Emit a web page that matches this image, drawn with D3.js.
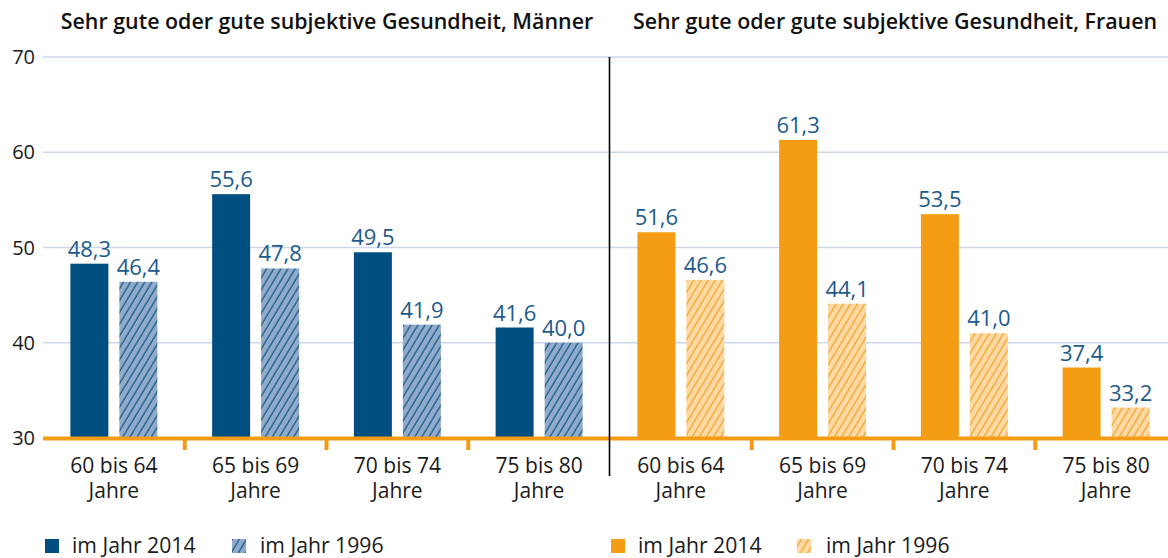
<!DOCTYPE html>
<html><head><meta charset="utf-8">
<script src="https://cdn.jsdelivr.net/npm/d3@7"></script>
<style>
html,body{margin:0;padding:0;background:#fff;}
svg{display:block;font-family:"Open Sans",sans-serif;}
</style></head>
<body>
<svg id="chart" width="1168" height="558"></svg>
<script>
const categories = ["60 bis 64|Jahre","65 bis 69|Jahre","70 bis 74|Jahre","75 bis 80|Jahre"];
const series = ["2014","1996"];
const titles = ["Sehr gute oder gute subjektive Gesundheit, Männer","Sehr gute oder gute subjektive Gesundheit, Frauen"];
const men2014 = [48.3, 55.6, 49.5, 41.6];
const men1996 = [46.4, 47.8, 41.9, 40.0];
const women2014 = [51.6, 61.3, 53.5, 37.4];
const women1996 = [46.6, 44.1, 41.0, 33.2];
const yTicks = [30, 40, 50, 60, 70];
const legendLabels = ["im Jahr 2014","im Jahr 1996"];

const svg = d3.select("#chart");
const W = 1168;
const y = d3.scaleLinear().domain([30,70]).range([438,57]);

const colors = {
  men: {solid:"#004f80", light:"#92abcb", line:"#004f80"},
  women: {solid:"#f49c14", light:"#fdd9a6", line:"#f49c14"}
};
const labelColor = "#1c5a8c";

const defs = svg.append("defs");
["men","women"].forEach(k=>{
  const p = defs.append("pattern").attr("id","hatch-"+k)
    .attr("patternUnits","userSpaceOnUse").attr("width",6.1).attr("height",10)
    .attr("patternTransform","rotate(31)");
  p.append("rect").attr("width",6.1).attr("height",10).attr("fill",colors[k].light);
  p.append("line").attr("x1",1).attr("x2",1).attr("y1",0).attr("y2",10)
    .attr("stroke",colors[k].line).attr("stroke-width",1.1);
});

// gridlines
svg.append("g").selectAll("line").data(yTicks.filter(d=>d>30)).join("line")
  .attr("x1",43).attr("x2",W).attr("y1",d=>y(d)).attr("y2",d=>y(d))
  .attr("stroke","#cdd7e8").attr("stroke-width",1.5);

// y axis labels
svg.append("g").selectAll("text").data(yTicks).join("text")
  .attr("x",35).attr("y",d=>y(d)).attr("dy","0.35em").attr("text-anchor","end")
  .attr("font-size",20).attr("fill","#1a1a1a").text(d=>d);

const panels = [
  {key:"men", range:[43,610], vals:[men2014,men1996], title:titles[0], tx:327},
  {key:"women", range:[610,1177], vals:[women2014,women1996], title:titles[1], tx:895}
];

panels.forEach(pn=>{
  const x0 = d3.scaleBand().domain(categories).range(pn.range).paddingInner(0).paddingOuter(0);
  const x1 = d3.scaleBand().domain(series).range([0,x0.bandwidth()]).paddingInner(0.2245).paddingOuter(0.559);
  const g = svg.append("g");
  const data = [];
  categories.forEach((c,i)=>series.forEach((s,j)=>data.push({c,s,v:pn.vals[j][i]})));
  g.selectAll("rect").data(data).join("rect")
    .attr("x",d=>x0(d.c)+x1(d.s)).attr("width",x1.bandwidth())
    .attr("y",d=>y(d.v)).attr("height",d=>y(30)-y(d.v))
    .attr("fill",d=>d.s==="2014"?colors[pn.key].solid:`url(#hatch-${pn.key})`);
  g.selectAll("text.val").data(data).join("text").attr("class","val")
    .attr("x",d=>x0(d.c)+x1(d.s)+x1.bandwidth()/2).attr("y",d=>y(d.v)-7)
    .attr("text-anchor","middle").attr("font-size",22).attr("fill",labelColor)
    .text(d=>d3.format(".1f")(d.v).replace(".",","));
  // ticks between groups
  g.selectAll("rect.tick").data(categories.slice(1)).join("rect").attr("class","tick")
    .attr("x",d=>x0(d)-2).attr("y",438).attr("width",4).attr("height",12)
    .attr("fill","#f49c14");
  // category labels
  const cl = g.selectAll("text.cat").data(categories).join("text").attr("class","cat")
    .attr("text-anchor","middle").attr("font-size",21).attr("fill","#1a1a1a");
  cl.each(function(d){
    const t = d3.select(this), parts = d.split("|"), cx = x0(d)+x0.bandwidth()/2;
    parts.forEach((p,i)=>t.append("tspan").attr("x",cx).attr("y",473+i*25).text(p));
  });
  // title
  svg.append("text").attr("x",pn.tx).attr("y",29)
    .attr("text-anchor","middle").attr("font-size",21.4).attr("font-weight",600).attr("fill","#111")
    .text(pn.title);
});

// baseline
svg.append("rect").attr("x",43).attr("y",y(30)-1.5).attr("width",W-43).attr("height",4).attr("fill","#f49c14");

// separator
svg.append("line").attr("x1",609.5).attr("x2",609.5).attr("y1",57).attr("y2",476)
  .attr("stroke","#000").attr("stroke-width",1.6);

// legends
const legendPos = [
  {key:"men", items:[{x:45,tx:72},{x:232,tx:260}]},
  {key:"women", items:[{x:611,tx:638},{x:797,tx:826}]}
];
legendPos.forEach(lp=>{
  const g = svg.append("g");
  lp.items.forEach((it,i)=>{
    g.append("rect").attr("x",it.x).attr("y",539).attr("width",14).attr("height",14)
      .attr("fill",i===0?colors[lp.key].solid:`url(#hatch-${lp.key})`);
    g.append("text").attr("x",it.tx).attr("y",553).attr("font-size",21.2).attr("fill","#1a1a1a")
      .text(legendLabels[i]);
  });
});
</script>
</body></html>
